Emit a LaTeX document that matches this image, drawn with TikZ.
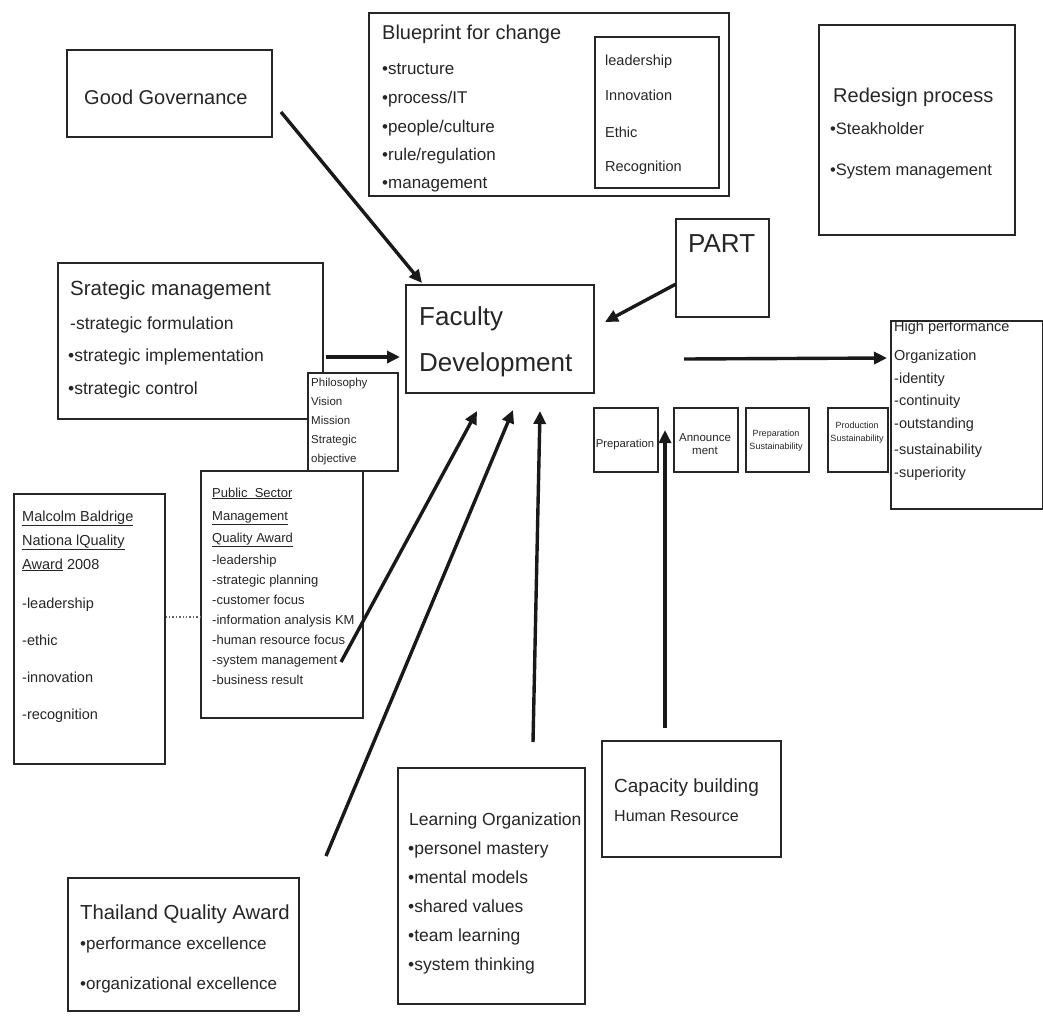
\documentclass[tikz,border=0pt]{standalone}
\usepackage{fontspec}
\setmainfont{Liberation Sans}
\usetikzlibrary{arrows.meta}
\newcommand{\fs}[1]{\fontsize{#1}{#1}\selectfont}
\newcommand{\bul}{\textbullet}
\begin{document}
\begin{tikzpicture}[x=1pt,y=-1pt,
  box/.style={draw=black!85,line width=1.6pt,rectangle,inner sep=0pt},
  txt/.style={anchor=base west,inner sep=0pt,text=black!85},
  arr/.style={line width=3.4pt,black!90,-{Triangle[length=13pt,width=12pt]}},
]
\useasboundingbox[fill=white] (0,0) rectangle (1043,1015);

% ---- boxes ----
\node[box,anchor=north west,minimum width=205,minimum height=87] (gg) at (66,49) {};
\node[box,anchor=north west,minimum width=360,minimum height=183] (bp) at (368,12) {};
\node[box,anchor=north west,minimum width=124,minimum height=151] (bpv) at (594,36) {};
\node[box,anchor=north west,minimum width=196,minimum height=210] (rd) at (818,24) {};
\node[box,anchor=north west,minimum width=93,minimum height=98] (part) at (675,218) {};
\node[box,anchor=north west,minimum width=265,minimum height=156] (sm) at (57,262) {};
\node[box,anchor=north west,minimum width=188,minimum height=108] (fd) at (405,284) {};
\node[box,anchor=north west,minimum width=90,minimum height=98,fill=white] (ph) at (307,372) {};
\node[box,anchor=north west,minimum width=64,minimum height=64] (p1) at (593,407) {};
\node[box,anchor=north west,minimum width=64,minimum height=64] (p2) at (673,407) {};
\node[box,anchor=north west,minimum width=63,minimum height=64] (p3) at (745,407) {};
\node[box,anchor=north west,minimum width=60,minimum height=64] (p4) at (827,407) {};
\node[box,anchor=north west,minimum width=162,minimum height=247] (ps) at (200,470) {};
\node[box,anchor=north west,minimum width=151,minimum height=270] (mb) at (13,493) {};
\node[box,anchor=north west,minimum width=179,minimum height=116] (cb) at (601,740) {};
\node[box,anchor=north west,minimum width=187,minimum height=236] (lo) at (397,767) {};
\node[box,anchor=north west,minimum width=231,minimum height=133] (tq) at (67,877) {};

% ---- texts ----
\node[txt,font=\fs{20}] at (84,104) {Good Governance};

\node[txt,font=\fs{20}] at (382,39) {Blueprint for change};
\foreach \t/\y in {structure/74,{process/IT}/103,{people/culture}/132,{rule/regulation}/160,management/188}
  \node[txt,font=\fs{17}] at (382,\y) {\bul\t};
\foreach \t/\y in {leadership/65,Innovation/100,Ethic/137,Recognition/171}
  \node[txt,font=\fs{14.5}] at (605,\y) {\t};

\node[txt,font=\fs{20}] at (833,102) {Redesign process};
\node[txt,font=\fs{16.5}] at (830,134) {\bul Steakholder};
\node[txt,font=\fs{16.5}] at (830,175) {\bul System management};

\node[txt,font=\fs{26}] at (688,252) {PART};

\node[txt,font=\fs{20.5}] at (70,295) {Srategic management};
\node[txt,font=\fs{17.5}] at (70,329) {-strategic formulation};
\node[txt,font=\fs{17.5}] at (68,361) {\bul strategic implementation};
\node[txt,font=\fs{17.5}] at (68,394) {\bul strategic control};

\node[txt,font=\fs{26}] at (419,325) {Faculty};
\node[txt,font=\fs{26}] at (419,371) {Development};

\foreach \t/\y in {Philosophy/386,Vision/405,Mission/424,Strategic/443,objective/462}
  \node[txt,font=\fs{11.5}] at (311,\y) {\t};

\node[txt,font=\fs{11.3},anchor=base] at (625,447) {Preparation};
\node[txt,font=\fs{11.5},anchor=base] at (705,441) {Announce};
\node[txt,font=\fs{11.5},anchor=base] at (705,454) {ment};
\node[txt,font=\fs{9},anchor=base] at (776,436) {Preparation};
\node[txt,font=\fs{9},anchor=base] at (776,449) {Sustainability};
\node[txt,font=\fs{9},anchor=base] at (857,428) {Production};
\node[txt,font=\fs{9},anchor=base] at (857,441) {Sustainability};

\node[txt,font=\fs{14.5}] at (894,331) {High performance};
\node[box,anchor=north west,minimum width=152,minimum height=188] (hp) at (890,320) {};
\foreach \t/\y in {Organization/360,-identity/383,-continuity/405,-outstanding/428,-sustainability/454,-superiority/477}
  \node[txt,font=\fs{14.5}] at (894,\y) {\t};

\node[txt,font=\fs{13}] at (212,497) {\underline{Public\ \ Sector}};
\node[txt,font=\fs{13}] at (212,520) {\underline{Management}};
\node[txt,font=\fs{13}] at (212,542) {\underline{Quality Award}};
\foreach \t/\y in {-leadership/564,-strategic planning/584,-customer focus/604,-information analysis KM/624,-human resource focus/644,-system management/664,-business result/684}
  \node[txt,font=\fs{13}] at (212,\y) {\t};

\node[txt,font=\fs{14.5}] at (22,521) {\underline{Malcolm Baldrige}};
\node[txt,font=\fs{14.5}] at (22,545) {\underline{Nationa lQuality}};
\node[txt,font=\fs{14.5}] at (22,569) {\underline{Award} 2008};
\foreach \t/\y in {-leadership/608,-ethic/645,-innovation/682,-recognition/719}
  \node[txt,font=\fs{14.5}] at (22,\y) {\t};

\node[txt,font=\fs{19}] at (614,792) {Capacity building};
\node[txt,font=\fs{16}] at (614,821) {Human Resource};

\node[txt,font=\fs{17.5}] at (409,825) {Learning Organization};
\foreach \t/\y in {personel mastery/854,mental models/883,shared values/912,team learning/941,system thinking/970}
  \node[txt,font=\fs{17.5}] at (408,\y) {\bul\t};

\node[txt,font=\fs{20.3}] at (80,919) {Thailand Quality Award};
\node[txt,font=\fs{17}] at (80,949) {\bul performance excellence};
\node[txt,font=\fs{17}] at (80,989) {\bul organizational excellence};

% ---- connector ends ----
\coordinate (ggA) at (281,112);
\coordinate (fdGG) at (422,283);
\coordinate (smA) at (326,357);
\coordinate (fdSM) at (400,357);
\coordinate (partA) at (676,284);
\coordinate (fdP) at (605,322);
\coordinate (fdOut) at (684,359);
\coordinate (hpIn) at (887,358);
\coordinate (psA) at (341,662);
\coordinate (fdPS) at (477,411);
\coordinate (tqA) at (326,856);
\coordinate (fdTQ) at (513,410);
\coordinate (loA) at (533,742);
\coordinate (fdLO) at (540,411);
\coordinate (cbA) at (665,728);
\coordinate (stIn) at (665,430);

% ---- connectors ----
\draw[arr] (ggA) -- (fdGG);
\draw[arr] (smA) -- (fdSM);
\draw[arr] (partA) -- (fdP);
\draw[arr] (fdOut) -- (hpIn);
\draw[arr] (psA) -- (fdPS);
\draw[arr] (tqA) -- (fdTQ);
\draw[arr] (loA) -- (fdLO);
\draw[arr] (cbA) -- (stIn);
\draw[black!60,line width=1.4pt,dotted] (mb.east |- 0,617) -- (ps.west |- 0,617);
\end{tikzpicture}
\end{document}
